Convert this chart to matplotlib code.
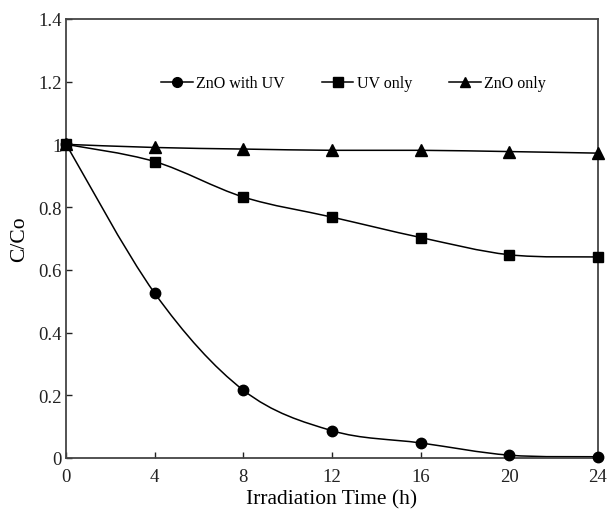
import numpy as np
import matplotlib.pyplot as plt
from matplotlib.path import Path
from matplotlib.patches import PathPatch

plt.rcParams['font.family'] = ['Liberation Serif', 'DejaVu Serif']

# irradiation time (h)
time_h = [0, 4, 8, 12, 16, 20, 24]

# C/Co values
zno_uv = [1.0, 0.525, 0.216, 0.087, 0.048, 0.009, 0.004]
uv_only = [1.0, 0.945, 0.832, 0.768, 0.703, 0.648, 0.641]
zno_only = [1.0, 0.99, 0.985, 0.981, 0.981, 0.977, 0.972]


def smooth_path(x, y):
    # Catmull-Rom segments turned into cubic bezier pieces
    x = np.asarray(x, float)
    y = np.asarray(y, float)
    pts = np.column_stack([x, y])
    verts = [pts[0]]
    codes = [Path.MOVETO]
    n = len(pts)
    for i in range(n - 1):
        p0 = pts[max(i - 1, 0)]
        p1 = pts[i]
        p2 = pts[i + 1]
        p3 = pts[min(i + 2, n - 1)]
        c1 = p1 + (p2 - p0) / 6.0
        c2 = p2 - (p3 - p1) / 6.0
        verts += [c1, c2, p2]
        codes += [Path.CURVE4] * 3
    return Path(verts, codes)


fig = plt.figure(figsize=(6.07, 5.10), dpi=100)
ax = fig.add_axes([0.109, 0.1, 0.876, 0.861])

series = [
    (zno_uv, 'o', 7.5, 'ZnO with UV'),
    (uv_only, 's', 7, 'UV only'),
    (zno_only, '^', 8, 'ZnO only'),
]
for vals, mk, ms, lab in series:
    ax.add_patch(PathPatch(smooth_path(time_h, vals), fill=False,
                           edgecolor='black', lw=1.1, clip_on=False))
    ax.plot(time_h, vals, linestyle='none', marker=mk, ms=ms,
            color='black', clip_on=False, zorder=3)
    # proxy for legend
    ax.plot([], [], '-', marker=mk, ms=ms - 0.5, color='black', lw=1.1, label=lab)

ax.set_xlim(0, 24)
ax.set_ylim(0, 1.4)
ax.set_xticks(time_h)
ax.set_yticks([0, 0.2, 0.4, 0.6, 0.8, 1.0, 1.2, 1.4])
ax.set_yticklabels(['0', '0.2', '0.4', '0.6', '0.8', '1', '1.2', '1.4'])
ax.tick_params(direction='in', length=4, width=1, labelsize=13.5,
               colors='#222222')
ax.tick_params(axis='x', pad=7)
ax.tick_params(axis='y', pad=3)
for s in ax.spines.values():
    s.set_linewidth(1.3)
    s.set_color('#444444')

ax.set_xlabel('Irradiation Time (h)', fontsize=15.5, labelpad=3)
ax.set_ylabel('C/Co', fontsize=15.5, labelpad=7)

ax.legend(loc='center', bbox_to_anchor=(0.54, 0.853), ncol=3, frameon=False,
          fontsize=11.5, handlelength=2.0, handletextpad=0.2, columnspacing=2.3)

plt.savefig('out.png', dpi=100)
